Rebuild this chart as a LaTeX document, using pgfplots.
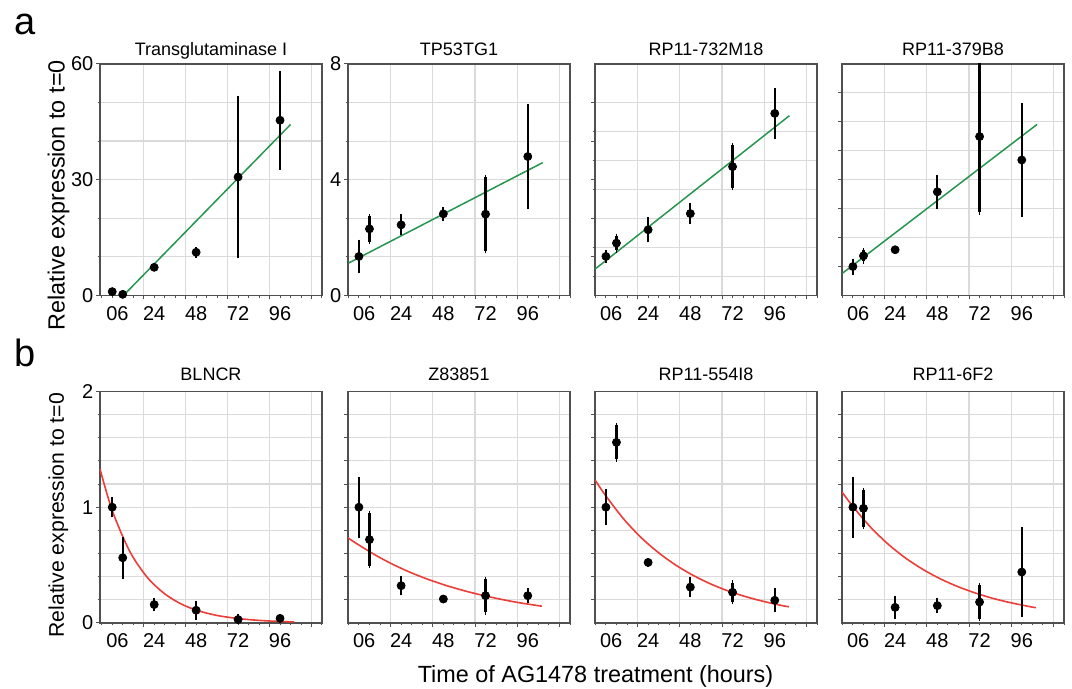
\documentclass[border=0pt]{standalone}
\usepackage{fontspec}
\setmainfont{Liberation Sans}
\usepackage{pgfplots}
\pgfplotsset{compat=1.18}
\definecolor{fitgreen}{RGB}{38,150,78}
\definecolor{fitred}{RGB}{236,62,56}
\definecolor{gridgray}{RGB}{218,218,218}
\definecolor{framegray}{RGB}{80,80,80}

\pgfplotsset{
  panel/.style={
    scale only axis, width=111pt, height=115.8pt,
    xmin=-6.2, xmax=120,
    axis line style={framegray, line width=0.7pt},
    xtick={18,42,66,90,114}, xticklabels={},
    extra x ticks={3,24,48,72,96},
    extra x tick labels={06,24,48,72,96},
    extra x tick style={grid=none, major tick length=0pt},
    minor xtick={-6,0,...,120},
    xtick pos=left, ytick pos=left,
    tick align=outside, major tick length=2pt, minor tick length=1.2pt,
    tick style={framegray, line width=0.5pt},
    xmajorgrids, ymajorgrids,
    grid style={gridgray, line width=0.6pt},
    minor grid style={gridgray, line width=0.6pt},
    tick label style={font=\fontsize{10}{11}\selectfont},
    xticklabel style={yshift=-1.8pt},
    yticklabel style={xshift=2.2pt},
    /pgf/number format/assume math mode=true,
    title style={font=\fontsize{9}{10}\selectfont, anchor=base, yshift=-1.8pt},
  },
  top/.style={ymin=0, ymax=8},
  bot/.style={ymin=0, ymax=2,
    title style={yshift=1.2pt}},
  botgrid/.style={ytick={0.2,0.4,0.6,0.8,1,1.2,1.4,1.6,1.8}, yticklabels={}},
  ylab/.style={ylabel={Relative expression to t=0},
    ylabel style={at={(axis description cs:-0.187,#1)}, anchor=center}},
  dots/.style={only marks, mark=*, mark size=2pt, black,
    error bars/.cd, y dir=both, y explicit,
    error bar style={line width=1.15pt, black},
    error mark options={mark size=1.1pt, line width=0.9pt, black}},
  green fit/.style={fitgreen, line width=0.75pt, no marks},
  red fit/.style={fitred, line width=0.8pt, no marks, smooth},
}

\begin{document}
\begin{tikzpicture}
\useasboundingbox (0,0) rectangle (536pt,344.5pt);

% ---- row a ----
\begin{axis}[panel, at={(50pt,196.75pt)}, anchor=south west,
  xmin=-7, ymin=0, ymax=60, ytick={0,30,60}, minor ytick={10,20,40,50}, yminorgrids,
  title={Transglutaminase I}, ylab=0.433,
  ylabel style={font=\fontsize{11.7}{13}\selectfont}]
\addplot[green fit] coordinates {(6.4,0) (102,44.3)};
\addplot[dots] table[x=t, y=v, y error=e] {
t v e
0 1.0 0
6 0.3 0
24 7.3 0.5
48 11.2 0.8
72 30.7 20.5
96 45.4 12.2
};
\end{axis}

\begin{axis}[panel, top, at={(174pt,196.75pt)}, anchor=south west,
  ytick={0,4,8}, minor ytick={1.333,2.667,5.333,6.667}, yminorgrids,
  title={TP53TG1}]
\addplot[green fit] coordinates {(-5.9,1.12) (104.5,4.59)};
\addplot[dots] table[x=t, y=v, y error=e] {
t v e
0 1.35 0.5
6 2.30 0.44
24 2.44 0.29
48 2.82 0.16
72 2.81 1.28
96 4.80 1.74
};
\end{axis}

\begin{axis}[panel, top, at={(297.5pt,196.75pt)}, anchor=south west,
  ytick={1.333,2.667,4,5.333,6.667}, yticklabels={}, ymajorgrids=false,
  minor ytick={0.667,1.667,2.667,3.667,4.667,5.667,6.667}, yminorgrids,
  title={RP11-732M18}]
\addplot[green fit] coordinates {(-6.2,0.91) (104.3,6.21)};
\addplot[dots] table[x=t, y=v, y error=e] {
t v e
0 1.35 0.14
6 1.81 0.25
24 2.27 0.36
48 2.83 0.28
72 4.45 0.74
96 6.29 0.8
};
\end{axis}

\begin{axis}[panel, top, at={(421pt,196.75pt)}, anchor=south west,
  ytick={1,2,3,4,5,6,7}, yticklabels={},
  title={RP11-379B8}]
\addplot[green fit] coordinates {(-5.9,0.77) (104.7,5.91)};
\addplot[dots] table[x=t, y=v, y error=e] {
t v e
0 1.0 0.2
6 1.37 0.19
24 1.58 0
48 3.58 0.5
72 5.49 2.62
96 4.68 1.9
};
\end{axis}

% ---- row b ----
\begin{axis}[panel, bot, at={(50pt,33pt)}, anchor=south west,
  xmin=-7, ytick={0,1,2}, minor ytick={0.2,0.4,0.6,0.8,1.2,1.4,1.6,1.8}, yminorgrids,
  title={BLNCR}, ylab=0.465,
  ylabel style={font=\fontsize{10.6}{12}\selectfont}]
\addplot[red fit] coordinates {(-7,1.330) (0,0.971) (10,0.619) (20,0.395) (30,0.252)
  (40,0.160) (50,0.102) (60,0.065) (70,0.042) (80,0.027) (90,0.017) (100,0.011) (104,0.009)};
\addplot[dots] table[x=t, y=v, y error=e] {
t v e
0 1.0 0.07
6 0.563 0.16
24 0.159 0.04
48 0.11 0.065
72 0.03 0.03
96 0.04 0.02
};
\end{axis}

\begin{axis}[panel, bot, botgrid, at={(174pt,33pt)}, anchor=south west,
  title={Z83851}]
\addplot[red fit] coordinates {(-6.2,0.735) (0,0.673) (10,0.581) (20,0.501) (30,0.432)
  (40,0.373) (50,0.322) (60,0.278) (70,0.240) (80,0.207) (90,0.178) (100,0.154) (104,0.145)};
\addplot[dots] table[x=t, y=v, y error=e] {
t v e
0 1.0 0.243
6 0.72 0.23
24 0.322 0.065
48 0.207 0
72 0.236 0.144
96 0.236 0.048
};
\end{axis}

\begin{axis}[panel, bot, botgrid, at={(297.5pt,33pt)}, anchor=south west,
  title={RP11-554I8}]
\addplot[red fit] coordinates {(-6.2,1.235) (0,1.097) (10,0.900) (20,0.738) (30,0.606)
  (40,0.497) (50,0.408) (60,0.334) (70,0.274) (80,0.225) (90,0.185) (100,0.151) (104,0.140)};
\addplot[dots] table[x=t, y=v, y error=e] {
t v e
0 1.0 0.134
6 1.56 0.148
24 0.523 0.02
48 0.31 0.065
72 0.265 0.083
96 0.196 0.086
};
\end{axis}

\begin{axis}[panel, bot, botgrid, at={(421pt,33pt)}, anchor=south west,
  title={RP11-6F2}]
\addplot[red fit] coordinates {(-6.2,1.131) (0,1.006) (10,0.828) (20,0.681) (30,0.560)
  (40,0.461) (50,0.379) (60,0.312) (70,0.257) (80,0.211) (90,0.174) (100,0.143) (104,0.132)};
\addplot[dots] table[x=t, y=v, y error=e] {
t v e
0 1.0 0.243
6 0.99 0.16
24 0.135 0.082
48 0.15 0.046
72 0.181 0.144
96 0.44 0.37
};
\end{axis}

\node[anchor=base, font=\fontsize{11.7}{13}\selectfont] at (297.75pt,3pt) {Time of AG1478 treatment (hours)};
\node[anchor=base, font=\fontsize{19}{22}\selectfont] at (12.5pt,327pt) {a};
\node[anchor=base, font=\fontsize{19}{22}\selectfont] at (12.5pt,161pt) {b};
\end{tikzpicture}
\end{document}
